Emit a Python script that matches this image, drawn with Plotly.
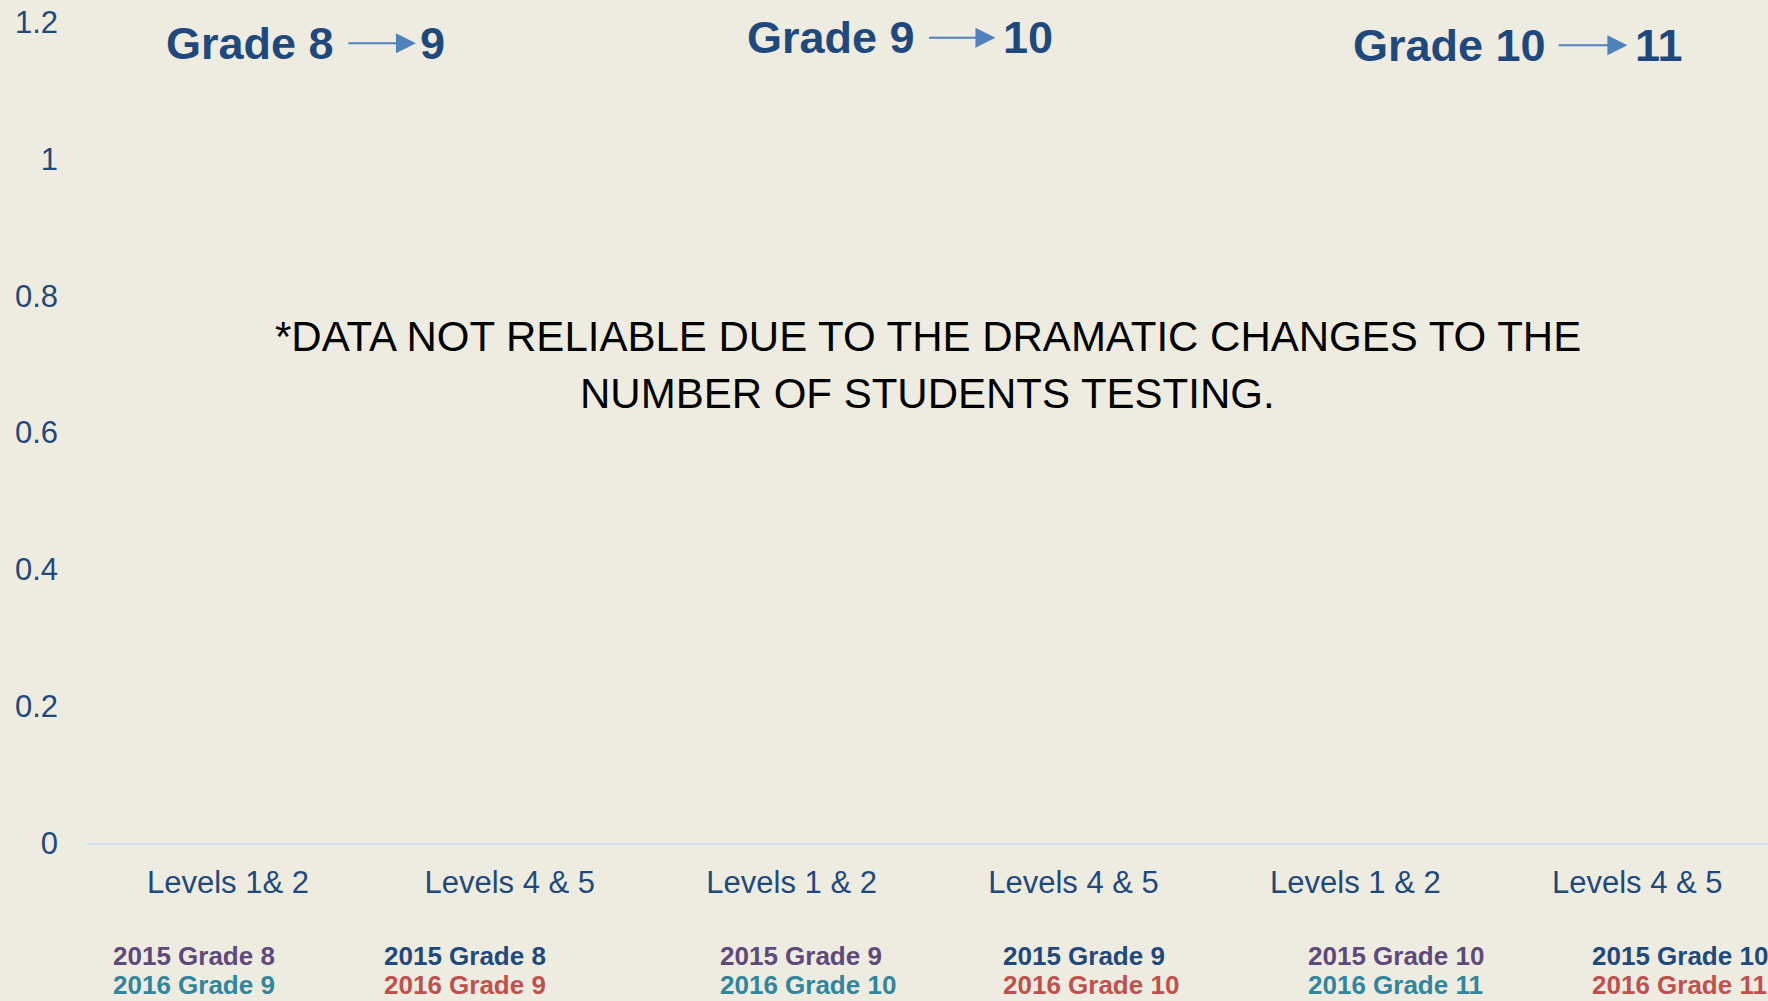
import plotly.graph_objects as go

# ---- data ----
categories = ["Levels 1& 2", "Levels 4 & 5", "Levels 1 & 2", "Levels 4 & 5", "Levels 1 & 2", "Levels 4 & 5"]
values_2015 = [0, 0, 0, 0, 0, 0]
values_2016 = [0, 0, 0, 0, 0, 0]
y_ticks = [0, 0.2, 0.4, 0.6, 0.8, 1, 1.2]
y_ticktext = ["0", "0.2", "0.4", "0.6", "0.8", "1", "1.2"]

group_from = ["Grade 8", "Grade 9", "Grade 10"]
group_to = ["9", "10", "11"]

series_top_labels = ["2015 Grade 8", "2015 Grade 8", "2015 Grade 9", "2015 Grade 9", "2015 Grade 10", "2015 Grade 10"]
series_bot_labels = ["2016 Grade 9", "2016 Grade 9", "2016 Grade 10", "2016 Grade 10", "2016 Grade 11", "2016 Grade 11"]

note_lines = ["*DATA NOT RELIABLE DUE TO THE DRAMATIC CHANGES TO THE", "NUMBER OF STUDENTS TESTING."]

# ---- style ----
BG = "#EEECE1"
DARK_BLUE = "#1F497D"
PURPLE = "#5F497A"
TEAL = "#31859C"
RED = "#C0504D"
ARROW = "#4F81BD"
SANS = "Liberation Sans, Arial, sans-serif"

x = list(range(len(categories)))

fig = go.Figure()
fig.add_trace(go.Bar(x=x, y=values_2015, name="2015", marker=dict(color=PURPLE, line=dict(width=0))))
fig.add_trace(go.Bar(x=x, y=values_2016, name="2016", marker=dict(color=TEAL, line=dict(width=0))))

annotations = []

# group titles with arrows
title_specs = [
    # (from-text right edge, arrow tail, arrow head, to-text left edge, y)
    (0.383, 0.422, 0.667, 0.674, 1.169),
    (2.443, 2.482, 2.723, 2.741, 1.177),
    (4.684, 4.716, 4.965, 4.986, 1.166),
]
for (fr, txt_to), (xr, at, ah, xl, yy) in zip(zip(group_from, group_to), title_specs):
    annotations.append(dict(x=xr, y=yy, xref="x", yref="y", text=fr, showarrow=False,
                            xanchor="right", yanchor="middle",
                            font=dict(family=SANS, size=45, color=DARK_BLUE, weight="bold")))
    annotations.append(dict(x=xl, y=yy, xref="x", yref="y", text=txt_to, showarrow=False,
                            xanchor="left", yanchor="middle",
                            font=dict(family=SANS, size=45, color=DARK_BLUE, weight="bold")))
    annotations.append(dict(x=ah, y=yy, xref="x", yref="y", ax=at, ay=yy, axref="x", ayref="y",
                            text="", showarrow=True, arrowhead=2, arrowsize=2, arrowwidth=2,
                            arrowcolor=ARROW, standoff=0, startstandoff=0))

# note text
for line, yy in zip(note_lines, [0.740, 0.657]):
    annotations.append(dict(x=2.482, y=yy, xref="x", yref="y", text=line, showarrow=False,
                            xanchor="center", yanchor="middle",
                            font=dict(family=SANS, size=42, color="#000000")))

# series labels under categories (paper coords, below plot area)
label_x = [-0.415, 0.546, 1.738, 2.741, 3.826, 4.833]
top_colors = [PURPLE, DARK_BLUE, PURPLE, DARK_BLUE, PURPLE, DARK_BLUE]
bot_colors = [TEAL, RED, TEAL, RED, TEAL, RED]
for lx, t1, t2, c1, c2 in zip(label_x, series_top_labels, series_bot_labels, top_colors, bot_colors):
    annotations.append(dict(x=lx, y=-0.1380, xref="x", yref="paper", text=t1, showarrow=False,
                            xanchor="left", yanchor="middle",
                            font=dict(family=SANS, size=26, color=c1, weight="bold")))
    annotations.append(dict(x=lx, y=-0.1733, xref="x", yref="paper", text=t2, showarrow=False,
                            xanchor="left", yanchor="middle",
                            font=dict(family=SANS, size=26, color=c2, weight="bold")))

fig.update_layout(
    width=1768, height=1001,
    paper_bgcolor=BG, plot_bgcolor=BG,
    margin=dict(l=87, r=0, t=22, b=158),
    showlegend=False,
    barmode="group",
    annotations=annotations,
    xaxis=dict(range=[-0.5, 5.464], tickvals=x, ticktext=categories, showgrid=False, zeroline=False,
               showline=True, linecolor="#D3DFEE", linewidth=2, ticks="",
               tickfont=dict(family=SANS, size=31, color=DARK_BLUE), ticklabelstandoff=11),
    yaxis=dict(range=[0, 1.2], tickvals=y_ticks, ticktext=y_ticktext, showgrid=False, zeroline=False,
               showline=False, ticks="", tickfont=dict(family=SANS, size=31, color=DARK_BLUE),
               ticklabelstandoff=28),
)

fig.write_html("out.html",
               config={"displayModeBar": False},
               post_script="document.body.style.margin='0';document.body.style.padding='0';"
                           "document.body.style.background='#EEECE1';")
